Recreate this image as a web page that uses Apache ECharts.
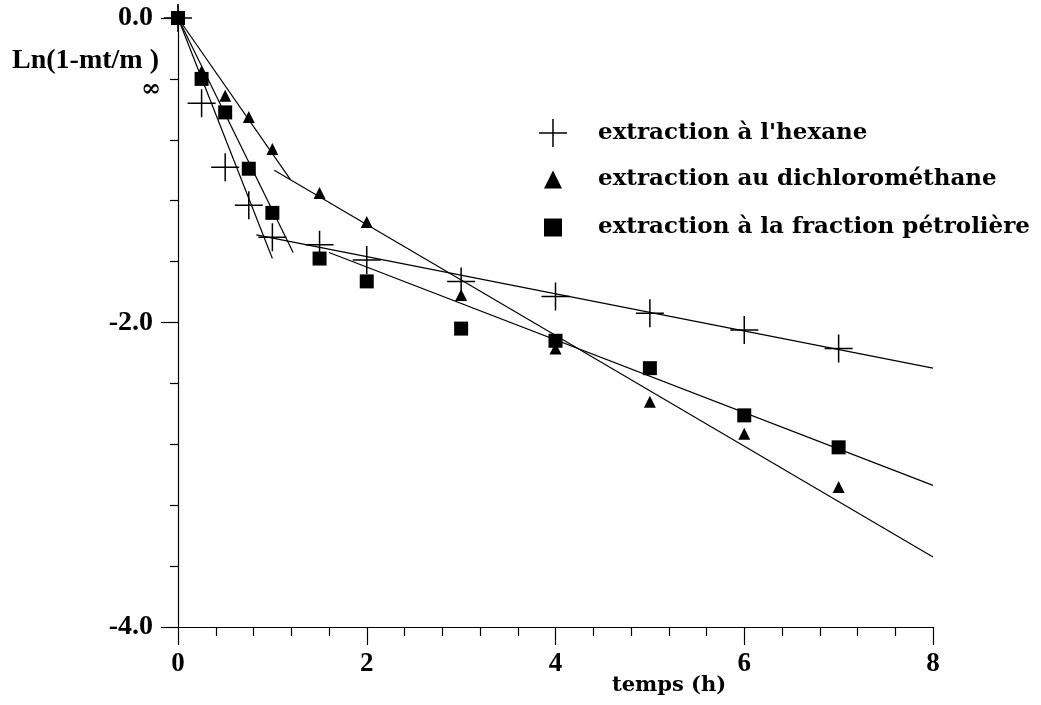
<!DOCTYPE html>
<html>
<head>
<meta charset="utf-8">
<script src="https://cdn.jsdelivr.net/npm/echarts@6/dist/echarts.min.js"></script>
<style>
  html, body { margin: 0; padding: 0; background: #fff; }
  #main { width: 1041px; height: 705px; }
</style>
</head>
<body>
<div id="main"></div>
<script>
// temps (h)
var times = [0, 0.25, 0.5, 0.75, 1, 1.5, 2, 3, 4, 5, 6, 7];
// Ln(1-mt/m∞)
var hexane   = [0, -0.56, -0.98, -1.23, -1.44, -1.49, -1.59, -1.73, -1.83, -1.94, -2.05, -2.17];
var dichloro = [0, -0.35, -0.51, -0.65, -0.86, -1.15, -1.34, -1.82, -2.17, -2.52, -2.73, -3.08];
var fraction = [0, -0.40, -0.62, -0.99, -1.28, -1.58, -1.73, -2.04, -2.12, -2.30, -2.61, -2.82];

// droites d'ajustement (deux segments par extraction)
var hexaneFit1   = [[0, 0], [1.0, -1.58]];
var hexaneFit2   = [[0.83, -1.425], [8, -2.30]];
var dichloroFit1 = [[0, 0], [1.19, -1.06]];
var dichloroFit2 = [[1.02, -1.0], [8, -3.54]];
var fractionFit1 = [[0, 0], [1.22, -1.54]];
var fractionFit2 = [[1.6, -1.54], [8, -3.07]];

var names = ["extraction à l'hexane", 'extraction au dichlorométhane', 'extraction à la fraction pétrolière'];

var crossPath = 'path://M13.25,0h1.5v28h-1.5zM0,13.25h28v1.5h-28z';

function pairs(ys) {
    var out = [];
    for (var i = 0; i < times.length; i++) out.push([times[i], ys[i]]);
    return out;
}

function fitLine(d) {
    return {
        type: 'line', data: d, symbol: 'none', silent: true,
        lineStyle: { color: '#000', width: 1.2 }, z: 2
    };
}

function legendText(pad) {
    return { fontFamily: 'DejaVu Serif', fontWeight: 'bold', fontSize: 23, color: '#000',
             padding: [0, 0, 0, pad] };
}

var chart = echarts.init(document.getElementById('main'));

chart.setOption({
    animation: false,
    backgroundColor: '#fff',
    grid: { left: 178, right: 108, top: 18, bottom: 78 },
    legend: [
        { data: [{ name: names[0], icon: crossPath }], left: 539, top: 119, padding: 0,
          itemWidth: 28, itemHeight: 28, itemStyle: { color: '#000', opacity: 1 },
          textStyle: legendText(26), selectedMode: false },
        { data: [{ name: names[1], icon: 'triangle' }], left: 544, top: 168, padding: 0,
          itemWidth: 18, itemHeight: 18, itemStyle: { color: '#000', opacity: 1 },
          textStyle: legendText(31), selectedMode: false },
        { data: [{ name: names[2], icon: 'rect' }], left: 544, top: 216, padding: 0,
          itemWidth: 18, itemHeight: 18, itemStyle: { color: '#000', opacity: 1 },
          textStyle: legendText(31), selectedMode: false }
    ],
    xAxis: {
        type: 'value', min: 0, max: 8, interval: 2,
        axisLine: { onZero: false, lineStyle: { color: '#000', width: 1.2 } },
        axisTick: { length: 18, lineStyle: { color: '#000', width: 1.2 } },
        minorTick: { show: true, splitNumber: 5, length: 9, lineStyle: { color: '#000', width: 1.2 } },
        splitLine: { show: false },
        axisLabel: { margin: 24, color: '#000', fontFamily: 'Liberation Serif', fontWeight: 'bold', fontSize: 27 }
    },
    yAxis: {
        type: 'value', min: -4, max: 0, interval: 2,
        axisLine: { show: true, lineStyle: { color: '#000', width: 1.2 } },
        axisTick: { show: true, length: 17, lineStyle: { color: '#000', width: 1.2 } },
        minorTick: { show: true, splitNumber: 5, length: 8, lineStyle: { color: '#000', width: 1.2 } },
        splitLine: { show: false },
        axisLabel: {
            margin: 25, color: '#000', fontFamily: 'Liberation Serif', fontWeight: 'bold', fontSize: 28,
            formatter: function (v) { return v.toFixed(1); }
        }
    },
    graphic: [
        { type: 'line', shape: { x1: 178, y1: 5, x2: 178, y2: 18 }, style: { stroke: '#000', lineWidth: 1.2 } },
        { type: 'text', left: 12, top: 47,
          style: { text: 'Ln(1-mt/m )', font: 'bold 28px "Liberation Serif"', fill: '#000' } },
        { type: 'text', left: 141, top: 78,
          style: { text: '∞', font: 'italic bold 24px "DejaVu Serif"', fill: '#000' } },
        { type: 'text', left: 612, top: 675,
          style: { text: 'temps (h)', font: 'bold 21px "DejaVu Serif"', fill: '#000' } }
    ],
    series: [
        fitLine(hexaneFit1), fitLine(hexaneFit2),
        fitLine(dichloroFit1), fitLine(dichloroFit2),
        fitLine(fractionFit1), fitLine(fractionFit2),
        { name: names[2], type: 'scatter', data: pairs(fraction), symbol: 'rect', symbolSize: 14,
          itemStyle: { color: '#000', opacity: 1 }, z: 3 },
        { name: names[1], type: 'scatter', data: pairs(dichloro), symbol: 'triangle', symbolSize: 12,
          itemStyle: { color: '#000', opacity: 1 }, z: 4 },
        { name: names[0], type: 'scatter', data: pairs(hexane), symbol: crossPath, symbolSize: 28,
          itemStyle: { color: '#000', opacity: 1 }, z: 5 }
    ]
});
</script>
</body>
</html>
